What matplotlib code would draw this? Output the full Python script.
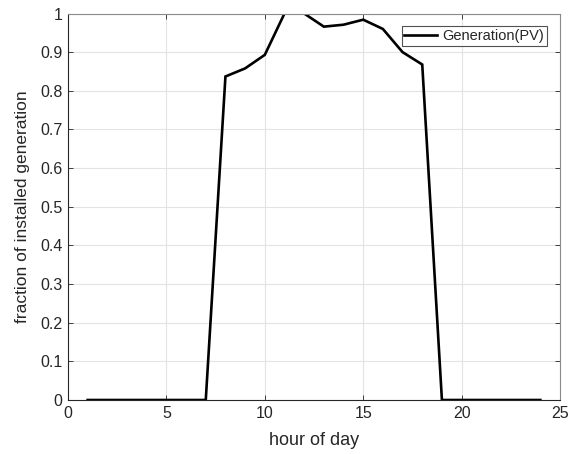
import matplotlib
matplotlib.use("Agg")
import matplotlib.pyplot as plt

plt.rcParams['font.family'] = ['Liberation Sans', 'DejaVu Sans']

hours = list(range(1, 25))
generation = [0, 0, 0, 0, 0, 0, 0, 0.837, 0.858, 0.893, 1.0, 1.0,
              0.966, 0.971, 0.984, 0.960, 0.900, 0.868, 0, 0, 0, 0, 0, 0]
x_ticks = [0, 5, 10, 15, 20, 25]
y_ticks = [0, 0.1, 0.2, 0.3, 0.4, 0.5, 0.6, 0.7, 0.8, 0.9, 1.0]
y_tick_labels = ['0', '0.1', '0.2', '0.3', '0.4', '0.5', '0.6', '0.7', '0.8', '0.9', '1']

W, H = 574, 454
fig = plt.figure(figsize=(W / 100, H / 100), dpi=100)
L, R, T, B = 68, 560, 13.5, 400
ax = fig.add_axes([L / W, 1 - B / H, (R - L) / W, (B - T) / H])
ax.plot(hours, generation, color='black', lw=1.9, label='Generation(PV)',
        solid_joinstyle='miter')
ax.set_xlim(0, 25)
ax.set_ylim(0, 1)
ax.set_xticks(x_ticks)
ax.set_yticks(y_ticks)
ax.set_yticklabels(y_tick_labels)
ax.grid(True, color='#e3e3e3', lw=0.8)
ax.set_axisbelow(True)
ax.tick_params(direction='in', length=3.5, width=0.6, labelsize=11.5, color='#262626',
               labelcolor='#262626', top=True, right=True, labeltop=False,
               labelright=False, pad=4)
for k, s in ax.spines.items():
    s.set_linewidth(0.8)
    s.set_color('#262626' if k in ('left', 'bottom') else '#8a8a8a')
ax.set_xlabel('hour of day', fontsize=13, color='#262626', labelpad=8)
ax.set_ylabel('fraction of installed generation', fontsize=12.5, color='#262626',
              labelpad=7)
leg = ax.legend(loc='upper right', bbox_to_anchor=(0.9736, 0.9677), borderaxespad=0,
                fontsize=10.5, frameon=True, fancybox=False, edgecolor='#262626',
                handlelength=2.25, borderpad=0.2, handletextpad=0.35)
leg.get_frame().set_linewidth(0.8)
for t in leg.get_texts():
    t.set_color('#262626')
fig.savefig('out.png', dpi=100)
